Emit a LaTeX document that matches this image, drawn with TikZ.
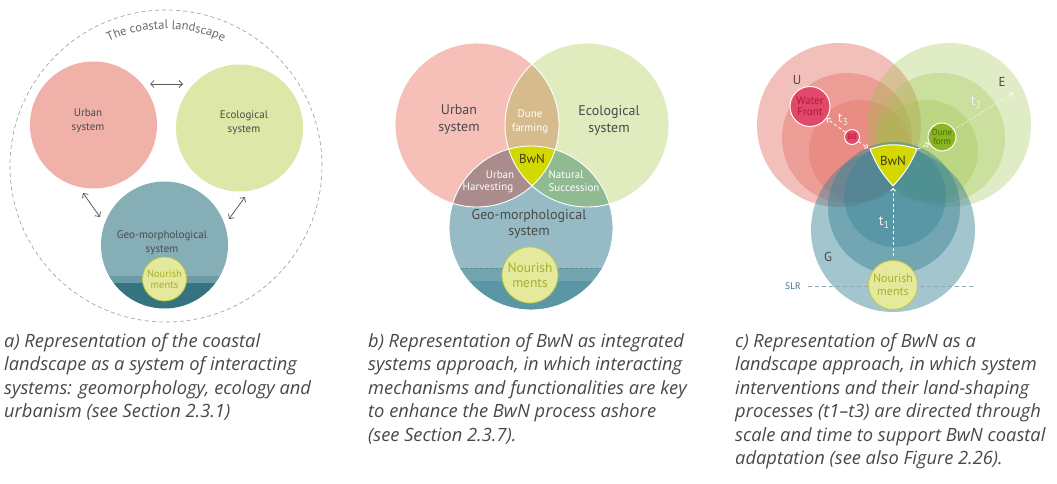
\documentclass[tikz,border=0pt]{standalone}
\usepackage{fontspec}
\setmainfont{PT Sans}
\newfontfamily\capfont{Open Sans}
\usetikzlibrary{arrows.meta,decorations.text}
\definecolor{labgray}{HTML}{4A4A4A}
\definecolor{dashgray}{HTML}{9A9A9A}
\definecolor{arctext}{HTML}{6A6A6A}
\definecolor{arrgray}{HTML}{5A5A5A}
\definecolor{capgray}{HTML}{484848}
\definecolor{urbA}{HTML}{F0B1A9}
\definecolor{ecoA}{HTML}{DDE8A8}
\definecolor{geoA}{HTML}{86AEB7}
\definecolor{geoAband}{HTML}{6A9CA7}
\definecolor{geoAdark}{HTML}{367381}
\definecolor{nourFill}{HTML}{E4E99C}
\definecolor{nourDraw}{HTML}{C3C740}
\definecolor{nourText}{HTML}{ABAF2E}
\definecolor{urbB}{HTML}{F6C0B8}
\definecolor{ecoB}{HTML}{E0EBBE}
\definecolor{geoB}{HTML}{96BBC4}
\definecolor{geoBband}{HTML}{73A5B0}
\definecolor{geoBdark}{HTML}{5B96A4}
\definecolor{bandDash}{HTML}{5A8E9B}
\definecolor{tanB}{HTML}{D6BC8C}
\definecolor{uhB}{HTML}{A98C8B}
\definecolor{nsB}{HTML}{90BB92}
\definecolor{bwn}{HTML}{D3D800}
\definecolor{bwnText}{HTML}{3C3C10}
\definecolor{urbC}{HTML}{E5786D}
\definecolor{ecoC}{HTML}{9EC34B}
\definecolor{geoC}{HTML}{3C8496}
\definecolor{wfFill}{HTML}{E2486A}
\definecolor{wfText}{HTML}{B3163A}
\definecolor{duneFill}{HTML}{8CB61F}
\definecolor{duneText}{HTML}{4D6B10}
\definecolor{slrText}{HTML}{3E7386}
\definecolor{slrLine}{HTML}{8AABB5}
\newcommand\fsz[2]{\fontsize{#1}{#2}\selectfont}
\tikzset{
  lab/.style={inner sep=0pt, text=labgray, align=center},
  dblarr/.style={arrgray, line width=0.8pt, {Straight Barb[length=3.5pt,width=7pt]}-{Straight Barb[length=3.5pt,width=7pt]}},
  carr/.style={white, line width=0.9pt, dash pattern=on 3pt off 2.5pt, -{Straight Barb[length=2.5pt,width=5pt]}},
  cdot/.style={white, line width=0.9pt, dash pattern=on 1pt off 2pt, -{Straight Barb[length=2.5pt,width=5pt]}},
  capline/.style={anchor=base west, inner sep=0pt, text=capgray, font=\capfont\fsz{18.3}{20}\itshape},
  nourcirc/.style={circle, fill=nourFill, draw=nourDraw, line width=0.8pt, inner sep=0pt, text=nourText, align=center},
  smallcirc/.style={circle, draw=white, line width=1pt, inner sep=0pt, align=center}
}
\begin{document}
\begin{tikzpicture}[x=1pt,y=1pt]
\useasboundingbox (0,0) rectangle (1057,-484);

% ---------------- Panel a ----------------
\draw[dashgray, line width=0.6pt, dash pattern=on 4pt off 3pt] (166,-166) circle (156);
\path[decorate, decoration={text along path, text align=center, text color=arctext,
  text={|\fsz{12.5}{13}|The coastal landscape}}]
  (166,-166) ++(140:137) arc[start angle=140, end angle=40, radius=137];

\node[circle, fill=urbA, minimum size=127pt, inner sep=0pt] (urbAc) at (93.5,-125) {};
\node[circle, fill=ecoA, minimum size=127pt, inner sep=0pt] (ecoAc) at (239.5,-128) {};
\coordinate (geoAc) at (164.5,-245);
\begin{scope}
\clip (geoAc) circle (63.5);
\fill[geoA] (100,-180) rectangle (230,-276);
\fill[geoAband] (100,-276) rectangle (230,-283);
\fill[geoAdark] (100,-283) rectangle (230,-312);
\end{scope}
\node[nourcirc, minimum size=44pt, font=\fsz{10.5}{11}] (nourA) at (164.5,-279) {Nourish\\ments};

\node[lab, font=\fsz{11}{14}] (urbAl) at (88,-121) {Urban\\system};
\node[lab, font=\fsz{11}{14}] (ecoAl) at (244,-123) {Ecological\\system};
\node[lab, font=\fsz{11}{14}] (geoAl) at (162,-243) {Geo-morphological\\system};

\coordinate (a1s) at (150,-84); \coordinate (a1e) at (183,-84);
\coordinate (a2s) at (83,-193); \coordinate (a2e) at (100,-217);
\coordinate (a3s) at (245,-197); \coordinate (a3e) at (229,-219);
\draw[dblarr] (a1s) -- (a1e);
\draw[dblarr] (a2s) -- (a2e);
\draw[dblarr] (a3s) -- (a3e);

% ---------------- Panel b ----------------
\coordinate (uB) at (477,-125);
\coordinate (eB) at (587,-125);
\coordinate (gB) at (531,-228);
\fill[urbB] (uB) circle (82);
\fill[ecoB] (eB) circle (82);
\begin{scope}
\clip (gB) circle (82);
\fill[geoB] (440,-140) rectangle (620,-268);
\fill[geoBband] (440,-268) rectangle (620,-281);
\fill[geoBdark] (440,-281) rectangle (620,-320);
\draw[bandDash, line width=0.7pt, dash pattern=on 3pt off 2pt] (440,-268) -- (620,-268);
\end{scope}
\begin{scope}
\clip (uB) circle (82);
\fill[tanB] (eB) circle (82);
\fill[uhB] (gB) circle (82);
\end{scope}
\begin{scope}
\clip (eB) circle (82);
\fill[nsB] (gB) circle (82);
\end{scope}
\begin{scope}
\clip (uB) circle (82);
\clip (eB) circle (82);
\fill[bwn] (gB) circle (82);
\end{scope}
\draw[white, line width=0.9pt] (uB) circle (82);
\draw[white, line width=0.9pt] (eB) circle (82);
\draw[white, line width=0.9pt] (gB) circle (82);
\node[nourcirc, minimum size=56pt, font=\fsz{13.5}{15}] (nourB) at (530,-275) {Nourish\\ments};

\node[lab, font=\fsz{14}{17}] (urbBl) at (459,-120) {Urban\\system};
\node[lab, font=\fsz{14}{17}] (ecoBl) at (609,-120) {Ecological\\system};
\node[lab, font=\fsz{11}{14}, text=white] (dfB) at (530,-122) {Dune\\farming};
\node[lab, font=\fsz{13}{14}, text=bwnText] (bwnBl) at (532,-159) {BwN};
\node[lab, font=\fsz{11}{13}, text=white] (uhBl1) at (500,-175) {Urban};
\node[lab, font=\fsz{11}{13}, text=white] (uhBl2) at (488,-188) {Harvesting};
\node[lab, font=\fsz{11}{13}, text=white] (nsBl1) at (566,-175) {Natural};
\node[lab, font=\fsz{11}{13}, text=white] (nsBl2) at (574,-188) {Succession};
\node[lab, font=\fsz{14}{16}] (geoBl) at (529,-224) {Geo-morphological\\system};

% ---------------- Panel c ----------------
\begin{scope}[fill opacity=0.47]
\fill[urbC] (839,-125) circle (82);
\fill[urbC] (847,-138) circle (65);
\fill[urbC] (860,-151) circle (51);
\end{scope}
\begin{scope}[fill opacity=0.32]
\fill[ecoC] (949,-125) circle (82);
\fill[ecoC] (940,-138) circle (65);
\fill[ecoC] (927,-151) circle (51);
\end{scope}
\begin{scope}[fill opacity=0.47]
\fill[geoC] (893,-230) circle (82);
\fill[geoC] (894,-208) circle (66);
\fill[geoC] (895,-196) circle (51);
\end{scope}

\coordinate (bwL) at (870,-149);
\coordinate (bwR) at (917,-149);
\coordinate (bwTip) at (893,-186);
\fill[bwn, draw=white, line width=1pt] (bwL) to[bend left=18] (bwR) to[bend left=10] (bwTip) to[bend left=10] cycle;
\node[lab, font=\fsz{13}{14}, text=bwnText] (bwnCl) at (893,-161) {BwN};

\draw[slrLine, line width=0.8pt, dash pattern=on 4pt off 3pt] (808,-286) -- (975,-286);
\node[lab, font=\fsz{9.5}{10}, text=slrText] (slr) at (793,-286) {SLR};

\node[smallcirc, fill=wfFill, minimum size=40pt, text=wfText, font=\fsz{11}{11}] (wf) at (810,-106.5) {Water\\Front};
\node[smallcirc, fill=wfFill, minimum size=15pt, text=wfText, font=\fsz{7.5}{7.5}] (bb) at (852,-137) {BB};
\node[smallcirc, fill=duneFill, minimum size=28pt, text=duneText, font=\fsz{9}{9}] (dune) at (942,-137) {Dune\\form};
\node[nourcirc, minimum size=49pt, font=\fsz{12}{13}] (nourC) at (893,-285) {Nourish\\ments};
\coordinate (eEnd) at (1013,-93);

\draw[carr] (bb) -- (wf);
\draw[carr] (bb) -- ([shift={(-2,1)}]bwL);
\draw[carr] ([shift={(1,0)}]bwR) -- (dune);
\draw[cdot] (dune) -- (eEnd);
\draw[carr] ([yshift=4pt]nourC.north) -- ([yshift=-2pt]bwTip);

\node[lab, font=\fsz{13}{14}] (uL) at (797,-80) {U};
\node[lab, font=\fsz{13}{14}] (eL) at (1002,-82) {E};
\node[lab, font=\fsz{13}{14}] (gL) at (828,-257) {G};
\node[lab, font=\fsz{14}{14}, text=white!94!black] (t3) at (843,-120) {t\raisebox{-3pt}{\fsz{10}{10}3}};
\node[lab, font=\fsz{14}{14}, text=white!94!black] (t2) at (976,-103) {t\raisebox{-3pt}{\fsz{10}{10}2}};
\node[lab, font=\fsz{14}{14}, text=white!94!black] (t1) at (884,-223) {t\raisebox{-3pt}{\fsz{10}{10}1}};

% ---------------- Captions ----------------
\node[capline] (ca1) at (4,-347) {a) Representation of the coastal};
\node[capline] (ca2) at (4,-370.5) {landscape as a system of interacting};
\node[capline] (ca3) at (4,-394) {systems: geomorphology, ecology and};
\node[capline] (ca4) at (4,-417.5) {urbanism (see Section 2.3.1)};

\node[capline] (cb1) at (368,-347) {b) Representation of BwN as integrated};
\node[capline] (cb2) at (368,-370.5) {systems approach, in which interacting};
\node[capline] (cb3) at (368,-394) {mechanisms and functionalities are key};
\node[capline] (cb4) at (368,-417.5) {to enhance the BwN process ashore};
\node[capline] (cb5) at (368,-441) {(see Section 2.3.7).};

\node[capline] (cc1) at (735,-347) {c) Representation of BwN as a};
\node[capline] (cc2) at (735,-370.5) {landscape approach, in which system};
\node[capline] (cc3) at (735,-394) {interventions and their land-shaping};
\node[capline] (cc4) at (735,-417.5) {processes (t1–t3) are directed through};
\node[capline] (cc5) at (735,-441) {scale and time to support BwN coastal};
\node[capline] (cc6) at (735,-464.5) {adaptation (see also Figure 2.26).};
\end{tikzpicture}
\end{document}
